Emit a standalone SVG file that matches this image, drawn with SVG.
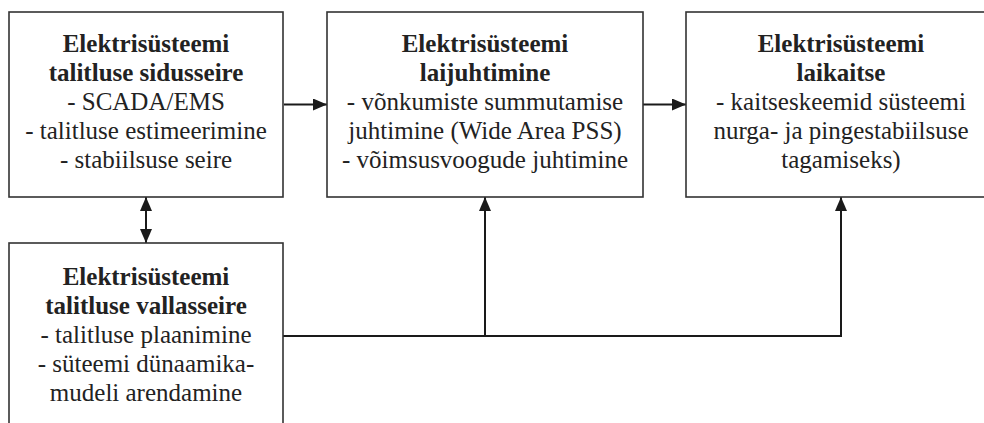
<svg xmlns="http://www.w3.org/2000/svg" width="984" height="423" viewBox="0 0 984 423">
<defs>
<style>
.box{fill:#fff;stroke:#333;stroke-width:1.6}
.con{fill:none;stroke:#1a1a1a;stroke-width:2}
.t text{font-size:25px;fill:#222;text-anchor:middle}
.b{font-weight:bold}
</style>
<marker id="ah" viewBox="0 0 14 12" refX="14" refY="6" markerWidth="14" markerHeight="12" markerUnits="userSpaceOnUse" orient="auto-start-reverse">
<path d="M0,0 L14,6 L0,12 Z" fill="#1a1a1a"/>
</marker>
</defs>
<rect width="984" height="423" fill="#fff"/>
<g id="connectors">
<line class="con" x1="284" y1="104.5" x2="327" y2="104.5" marker-end="url(#ah)"/>
<line class="con" x1="643" y1="104.5" x2="686" y2="104.5" marker-end="url(#ah)"/>
<line class="con" x1="146" y1="197" x2="146" y2="243" marker-start="url(#ah)" marker-end="url(#ah)"/>
<polyline class="con" points="283,336 841,336 841,197" marker-end="url(#ah)"/>
<line class="con" x1="485" y1="336" x2="485" y2="197" marker-end="url(#ah)"/>
</g>
<g class="t" font-family="Liberation Serif, Tinos, Times New Roman, DejaVu Serif, serif">
<g id="node-sidusseire">
<rect class="box" x="9" y="12" width="274" height="185"/>
<text x="146" y="52" class="b">Elektrisüsteemi</text>
<text x="146" y="81" class="b">talitluse sidusseire</text>
<text x="146" y="110">- SCADA/EMS</text>
<text x="146" y="139">- talitluse estimeerimine</text>
<text x="146" y="168">- stabiilsuse seire</text>
</g>
<g id="node-laijuhtimine">
<rect class="box" x="327" y="12" width="316" height="185"/>
<text x="485" y="52" class="b">Elektrisüsteemi</text>
<text x="485" y="81" class="b">laijuhtimine</text>
<text x="485" y="110">- võnkumiste summutamise</text>
<text x="485" y="139">juhtimine (Wide Area PSS)</text>
<text x="485" y="168">- võimsusvoogude juhtimine</text>
</g>
<g id="node-laikaitse">
<rect class="box" x="686" y="12" width="310" height="185"/>
<text x="841" y="52" class="b">Elektrisüsteemi</text>
<text x="841" y="81" class="b">laikaitse</text>
<text x="841" y="110">- kaitseskeemid süsteemi</text>
<text x="841" y="139">nurga- ja pingestabiilsuse</text>
<text x="841" y="168">tagamiseks)</text>
</g>
<g id="node-vallasseire">
<rect class="box" x="9" y="243" width="274" height="200"/>
<text x="146" y="285" class="b">Elektrisüsteemi</text>
<text x="146" y="314" class="b">talitluse vallasseire</text>
<text x="146" y="343">- talitluse plaanimine</text>
<text x="146" y="372">- süteemi dünaamika-</text>
<text x="146" y="401">mudeli arendamine</text>
</g>
</g>
</svg>
